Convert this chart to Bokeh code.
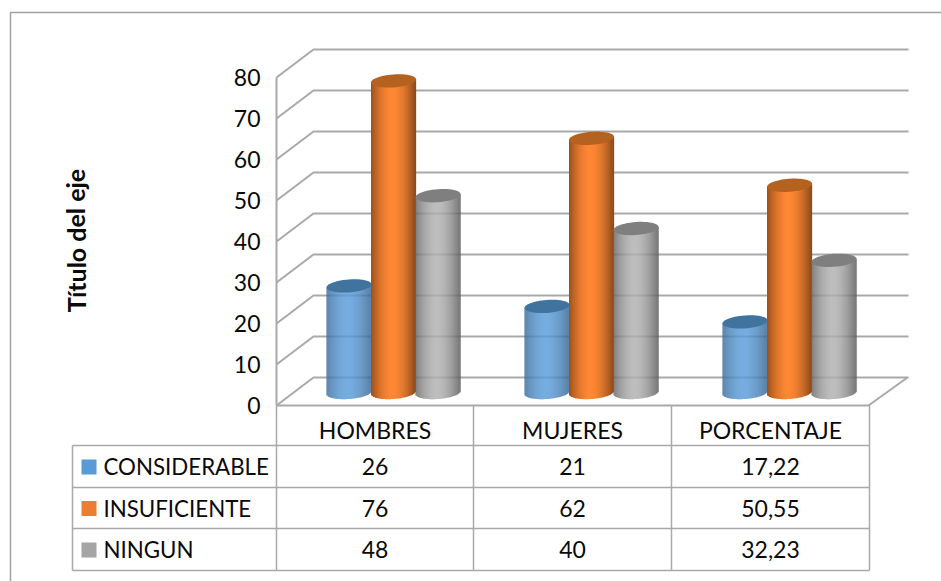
import math

from bokeh.core.properties import value
from bokeh.embed import file_html
from bokeh.models import FixedTicker, LinearAxis, Range1d
from bokeh.plotting import figure
from bokeh.resources import INLINE

categories = ["HOMBRES", "MUJERES", "PORCENTAJE"]
series_names = ["CONSIDERABLE", "INSUFICIENTE", "NINGUN"]
considerable = [26, 21, 17.22]
insuficiente = [76, 62, 50.55]
ningun = [48, 40, 32.23]
cell_labels = [["26", "21", "17,22"], ["76", "62", "50,55"], ["48", "40", "32,23"]]
y_ticks = [0, 10, 20, 30, 40, 50, 60, 70, 80]
axis_title = "Título del eje"

W, H = 941, 581
FONT = "Lato"
GRID = "#a9a9a9"
TEXT = "#0a0a0a"

# Geometry of the 3D box, in pixels
UNIT = 4.1           # pixels per value unit
FLOOR_FRONT = 405
LEFT_FRONT = 276
DEPTH_X, DEPTH_Y = 37, 28
BOX_WIDTH = 595
BAR_DEPTH_Y = 13     # bars stand this far behind the front plane
GROUP_X = [393, 591, 789]
BAR_STEP = 44.5
BAR_RX = 22.5
BAR_RY = 6.5
TILT = 0.07

# Colours per series: swatch, cylinder edge, cylinder centre, cap
SWATCH = ["#5b9bd5", "#ed7d31", "#a5a5a5"]
EDGE = [(58, 104, 148), (146, 76, 28), (96, 96, 96)]
CENTRE = [(90, 156, 218), (255, 136, 52), (176, 176, 176)]
CAP = ["#41739f", "#b5611f", "#7f7f7f"]


def to_value(px):
    """Convert a pixel row into the value scale of the front plane."""
    return (FLOOR_FRONT - px) / UNIT


p = figure(width=W, height=H, output_backend="svg", toolbar_location=None,
           x_range=Range1d(0, W),
           y_range=Range1d(to_value(H), to_value(0)),
           min_border=0, outline_line_color=None)
p.grid.visible = False
p.xaxis.visible = False
p.yaxis.visible = False
p.background_fill_color = "white"
p.border_fill_color = "white"
p.extra_y_ranges = {"px": Range1d(H, 0)}

# Chart outline: it runs off the right and bottom of the page
p.line([10, 10, W], [H, 12, 12], y_range_name="px", line_color="#a0a0a0", line_width=1.5)

# Back wall, side wall and floor lines
depth_value = DEPTH_Y / UNIT
for tick in y_ticks:
    p.line([LEFT_FRONT, LEFT_FRONT + DEPTH_X, LEFT_FRONT + DEPTH_X + BOX_WIDTH],
           [tick, tick + depth_value, tick + depth_value],
           line_color=GRID, line_width=2)
p.line([LEFT_FRONT + BOX_WIDTH - 3, LEFT_FRONT + BOX_WIDTH + DEPTH_X - 1],
       [0, depth_value], line_color=GRID, line_width=2)


def add_cylinder(center, amount, series):
    base = BAR_DEPTH_Y / UNIT
    steps = int(BAR_RX * 2)
    lefts, rights, bottoms, tops, colors = [], [], [], [], []
    for i in range(steps):
        t = -1 + 2 * (i + 0.5) / steps
        k = max(0.0, 1 - abs(t + 0.05) ** 1.7)
        rgb = tuple(int(e + (c - e) * k) for e, c in zip(EDGE[series], CENTRE[series]))
        dx = t * BAR_RX
        drop = BAR_RY * math.sqrt(1 - t * t) - TILT * dx
        lefts.append(center - BAR_RX + i * 2 * BAR_RX / steps)
        rights.append(center - BAR_RX + (i + 1.15) * 2 * BAR_RX / steps)
        bottoms.append(base - drop / UNIT)
        tops.append(base + amount + TILT * dx / UNIT)
        colors.append("#%02x%02x%02x" % rgb)
    p.quad(left=lefts, right=rights, bottom=bottoms, top=tops, fill_color=colors, line_color=None)
    cap_x, cap_y = [], []
    for i in range(49):
        a = i / 48 * 2 * math.pi
        dx, dy = BAR_RX * math.cos(a), BAR_RY * math.sin(a)
        cap_x.append(center + dx)
        cap_y.append(base + amount + (dy + TILT * dx) / UNIT)
    p.patch(cap_x, cap_y, fill_color=CAP[series], line_color=None)


all_series = [considerable, insuficiente, ningun]
for g, center in enumerate(GROUP_X):
    for s, values in enumerate(all_series):
        add_cylinder(center + (s - 1) * BAR_STEP, values[g], s)

# Value axis on the front edge of the box
axis = LinearAxis(ticker=FixedTicker(ticks=y_ticks), fixed_location=LEFT_FRONT,
                  major_tick_line_color=None, minor_tick_line_color=None,
                  axis_line_color=None, major_label_standoff=10,
                  major_label_text_font=FONT, major_label_text_font_size="23px",
                  major_label_text_color=TEXT)
p.add_layout(axis, "left")
p.line([LEFT_FRONT, LEFT_FRONT], [0, 80], line_color=GRID, line_width=2)

p.text([75], [240], text=[axis_title], y_range_name="px", angle=1.5708,
       text_font=value(FONT), text_font_style="bold", text_font_size="25px",
       text_color=TEXT, text_align="center", text_baseline="middle")

# Data table under the box
col_x = [276, 473, 671, 869]
row_y = [405, 445, 487, 528, 570]
legend_x = 72
p.line([col_x[0], col_x[-1]], [row_y[0], row_y[0]], y_range_name="px", line_color=GRID, line_width=2)
for y in row_y[1:]:
    p.line([legend_x, col_x[-1]], [y, y], y_range_name="px", line_color=GRID, line_width=1.5)
p.line([legend_x, legend_x], [row_y[1], row_y[-1]], y_range_name="px", line_color=GRID, line_width=1.5)
for x in col_x:
    p.line([x, x], [row_y[0], row_y[-1]], y_range_name="px", line_color=GRID, line_width=1.5)

col_centers = [(a + b) / 2 for a, b in zip(col_x[:-1], col_x[1:])]
p.text(col_centers, [429] * 3, text=categories, y_range_name="px",
       text_font=value(FONT), text_font_size="23px", text_color=TEXT,
       text_align="center", text_baseline="middle")
for r, row in enumerate(cell_labels):
    y = (row_y[r + 1] + row_y[r + 2]) / 2
    p.text(col_centers, [y] * 3, text=row, y_range_name="px",
           text_font=value(FONT), text_font_size="23px", text_color=TEXT,
           text_align="center", text_baseline="middle")
    p.quad(left=[81], right=[96], top=[y - 7], bottom=[y + 8], y_range_name="px",
           fill_color=SWATCH[r], line_color=None)
    p.text([103], [y], text=[series_names[r]], y_range_name="px",
           text_font=value(FONT), text_font_size="22.3px", text_color=TEXT,
           text_align="left", text_baseline="middle")

open("out.html", "w").write(file_html(p, INLINE))
